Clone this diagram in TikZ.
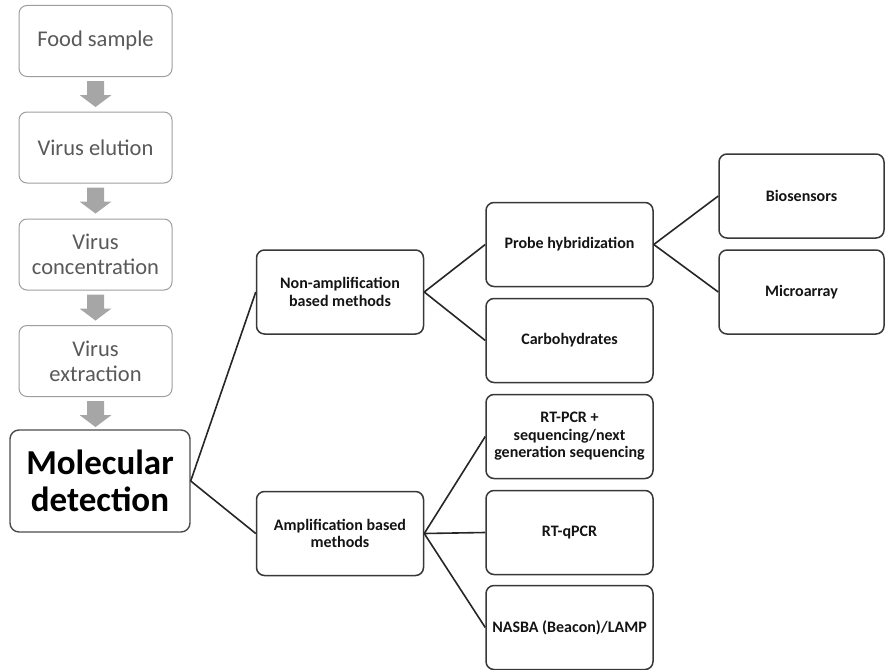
\documentclass[tikz,border=0pt]{standalone}
\usepackage{fontspec}
\setmainfont{Carlito}
\begin{document}
\begin{tikzpicture}[x=1pt,y=-1pt,
  stage/.style={draw=black!38, line width=1pt, rounded corners=8pt, fill=white,
    text=black!65, align=center, minimum width=153pt, minimum height=71pt,
    inner sep=0pt, font=\fontsize{22.5}{25}\selectfont},
  mainbox/.style={draw=black!70, line width=1.4pt, rounded corners=9pt, fill=white,
    text=black, align=center, minimum width=180pt, minimum height=102pt,
    inner sep=0pt, font=\fontsize{35}{37}\bfseries\selectfont},
  method/.style={draw=black!78, line width=1.5pt, rounded corners=8pt, fill=white,
    text=black!92, align=center, minimum width=167pt, minimum height=84pt,
    inner sep=0pt, font=\fontsize{16}{17.5}\bfseries\selectfont},
  link/.style={draw=black!85, line width=1.6pt},
  % downward block arrow between two stages
  flowarrow/.pic={
    \fill[black!35] (-8.5,0) -- (8.5,0) -- (8.5,14) -- (16,14) -- (0,26)
      -- (-16,14) -- (-8.5,14) -- cycle;}]
\useasboundingbox (0,0) rectangle (885,669);
% sample preparation chain
\node[stage] (food) at (95.5,41) {Food sample};
\node[stage] (elut) at (95.5,147.5) {Virus elution};
\node[stage] (conc) at (95.5,254.5) {Virus\\concentration};
\node[stage] (extr) at (95.5,361) {Virus\\extraction};
\node[mainbox] (mol) at (100,481) {Molecular\\detection};
\pic at ([yshift=-4pt]food.south) {flowarrow};
\pic at ([yshift=-4pt]elut.south) {flowarrow};
\pic at ([yshift=-4pt]conc.south) {flowarrow};
\pic at ([yshift=-4pt]extr.south) {flowarrow};
% detection methods
\node[method] (nonamp) at (340,292) {Non-amplification\\based methods};
\node[method] (amp) at (340,533.5) {Amplification based\\methods};
\node[method] (probe) at (569.5,244.5) {Probe hybridization};
\node[method] (carb) at (569.5,340.5) {Carbohydrates};
\node[method] (rtpcr) at (569.5,436.5) {RT-PCR +\\sequencing/next\\generation sequencing};
\node[method] (qpcr) at (569.5,532.5) {RT-qPCR};
\node[method] (nasba) at (569.5,627.5) {NASBA (Beacon)/LAMP};
\node[method, minimum width=165pt] (bio) at (801.5,196) {Biosensors};
\node[method, minimum width=165pt] (micro) at (801.5,292) {Microarray};
% connectors
\draw[link] (mol.east) -- (nonamp.west);
\draw[link] (mol.east) -- (amp.west);
\draw[link] (nonamp.east) -- (probe.west);
\draw[link] (nonamp.east) -- (carb.west);
\draw[link] (amp.east) -- (rtpcr.west);
\draw[link] (amp.east) -- (qpcr.west);
\draw[link] (amp.east) -- (nasba.west);
\draw[link] (probe.east) -- (bio.west);
\draw[link] (probe.east) -- (micro.west);
\end{tikzpicture}
\end{document}
